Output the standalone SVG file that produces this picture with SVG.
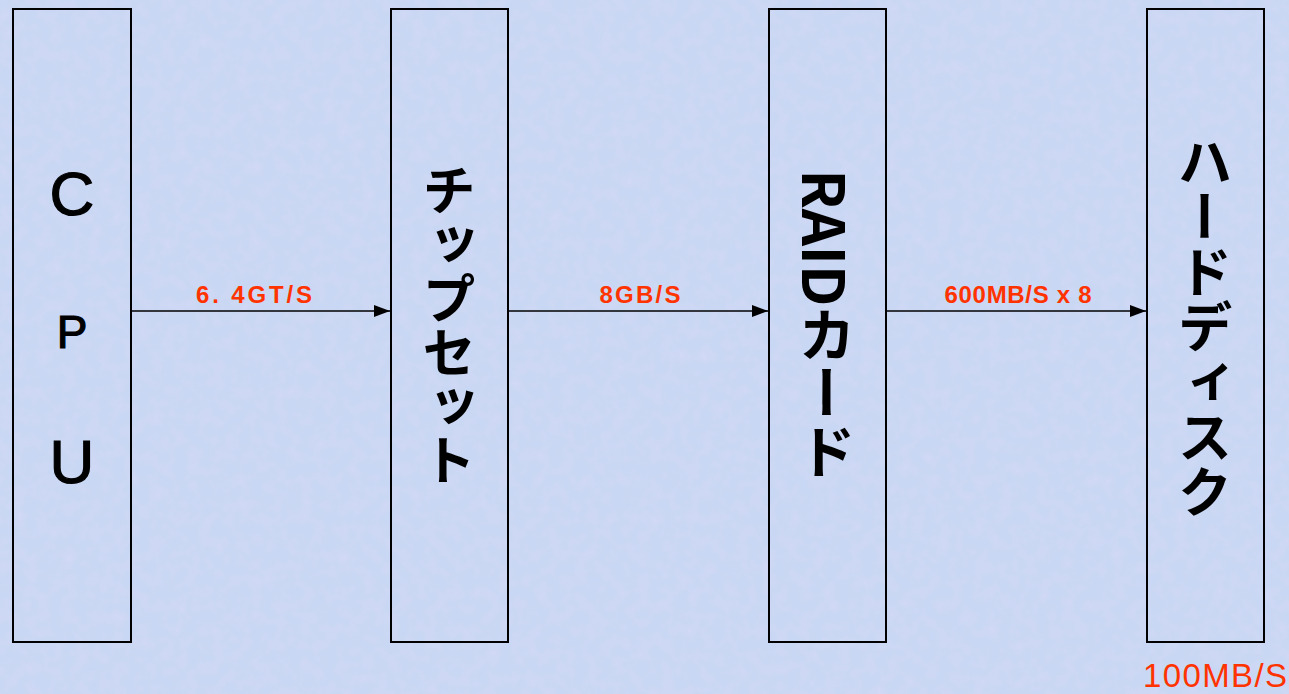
<svg xmlns="http://www.w3.org/2000/svg" width="1289" height="694" viewBox="0 0 1289 694">
<defs>
<style>
.box{fill:none;stroke:#000;stroke-width:2}
.conn{stroke:#000;stroke-width:1.5;fill:none}
.lbl{fill:#ff3300;font-family:"Liberation Sans","Noto Sans CJK JP",sans-serif;font-size:24px;font-weight:bold;text-anchor:middle}
.cpu{fill:#000;stroke:#000;stroke-width:1.2;font-family:"Liberation Sans",sans-serif;text-anchor:middle}
.vt{fill:#000;font-family:"Noto Sans CJK JP",sans-serif;font-weight:bold;writing-mode:vertical-rl;text-anchor:middle}
</style>
<marker id="ah" markerWidth="16" markerHeight="12" refX="16" refY="6" orient="auto" markerUnits="userSpaceOnUse">
<path d="M0,0 L16,6 L0,12 Z" fill="#000"/>
</marker>
<filter id="tex" x="0" y="0" width="100%" height="100%">
<feTurbulence type="fractalNoise" baseFrequency="0.08" numOctaves="2" seed="3" result="n"/>
<feColorMatrix in="n" type="matrix" values="0 0 0 0 0.95  0 0 0 0 0.75  0 0 0 0 1  0 0 0 0.9 -0.3"/>
</filter>
</defs>
<rect width="1289" height="694" fill="#c8d7f3"/>
<rect width="1289" height="694" filter="url(#tex)" opacity="0.35"/>
<g id="cpu">
<rect class="box" x="13" y="9" width="118" height="633"/>
<text class="cpu" x="72" y="215" style="font-size:62px">C</text>
<text class="cpu" x="72" y="348" style="font-size:46px">P</text>
<text class="cpu" x="72" y="483" style="font-size:62px">U</text>
</g>
<g id="chipset">
<rect class="box" x="391" y="9" width="117" height="633"/>
<text class="vt" x="449" y="325" style="font-size:54px">チップセット</text>
</g>
<g id="raid">
<rect class="box" x="769" y="9" width="117" height="633"/>
<text class="vt" x="827" y="325" style="font-size:58px">RAIDカード</text>
</g>
<g id="hdd">
<rect class="box" x="1147" y="9" width="117" height="633"/>
<text class="vt" x="1205" y="326" style="font-size:55px">ハードディスク</text>
<text x="1287" y="687" textLength="144" style="fill:#ff3300;font-family:'Liberation Sans',sans-serif;font-size:33px;text-anchor:end">100MB/S</text>
</g>
<g id="connectors">
<line class="conn" x1="132" y1="311" x2="390" y2="311" marker-end="url(#ah)"/>
<line class="conn" x1="509" y1="311" x2="768" y2="311" marker-end="url(#ah)"/>
<line class="conn" x1="887" y1="311" x2="1146" y2="311" marker-end="url(#ah)"/>
<text class="lbl" x="254" y="303" textLength="116">6. 4GT/S</text>
<text class="lbl" x="640" y="303" textLength="81">8GB/S</text>
<text class="lbl" x="1018" y="303" textLength="147">600MB/S x 8</text>
</g>
</svg>
